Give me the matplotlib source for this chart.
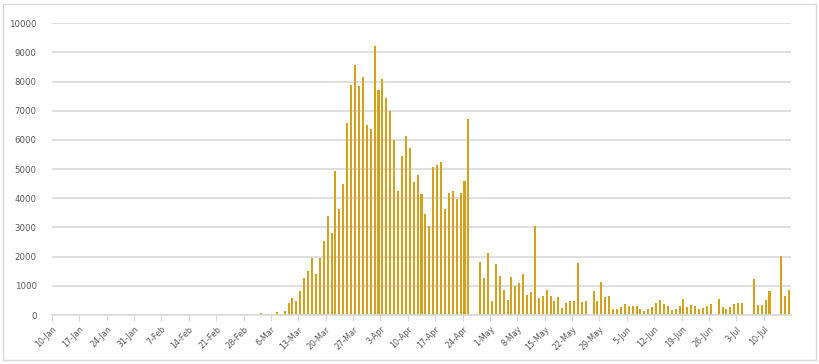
import numpy as np
import pandas as pd
import matplotlib
matplotlib.use("Agg")
import matplotlib.pyplot as plt
from matplotlib.patches import Rectangle

# daily values, 10-Jan .. 16-Jul 2020
dates = pd.date_range("2020-01-10", "2020-07-16", freq="D")
values = [
    0, 0, 0, 0, 0, 0, 0, 0, 0, 0,
    0, 0, 0, 0, 0, 0, 0, 0, 0, 0,
    0, 0, 0, 0, 0, 0, 0, 0, 0, 0,
    0, 0, 0, 0, 0, 0, 0, 0, 0, 0,
    0, 0, 0, 0, 0, 0, 0, 0, 0, 0,
    0, 0, 0, 60, 0, 35, 35, 90, 30, 150,
    410, 580, 490, 810, 1256, 1515, 1970, 1420, 1970, 2530,
    3400, 2805, 4920, 3630, 4490, 6570, 7900, 8560, 7860, 8160,
    6510, 6390, 9210, 7710, 8090, 7450, 7010, 6010, 4250, 5450,
    6150, 5740, 4550, 4810, 4140, 3450, 3040, 5060, 5140, 5230,
    3630, 4180, 4260, 3970, 4180, 4600, 6730, 0, 0, 1805,
    1268, 2125, 480, 1760, 1336, 856, 503, 1300, 983, 1096,
    1393, 685, 788, 3040, 582, 640, 845, 635, 490, 616,
    240, 422, 490, 468, 1770, 445, 468, 0, 833, 490,
    1120, 628, 650, 194, 194, 274, 365, 308, 308, 308,
    217, 137, 217, 285, 400, 503, 365, 308, 180, 200,
    320, 548, 274, 342, 308, 217, 228, 308, 365, 0,
    537, 274, 194, 285, 365, 411, 422, 0, 0, 1222,
    331, 342, 503, 833, 0, 0, 2010, 640, 856,
]
tick_every = 7
yticks = list(range(0, 10001, 1000))

bar_color = "#D6A11C"
grid_color = "#D9D9D9"
text_color = "#595959"

fig = plt.figure(figsize=(8.19, 3.64), dpi=100)
ax = fig.add_axes([0.0635, 0.1346, 0.9023, 0.8014])

x = np.arange(len(values)) + 0.5
ax.bar(x, values, width=0.52, color=bar_color, zorder=3)

ax.set_xlim(0, len(values))
ax.set_ylim(0, 10000)
ax.set_yticks(yticks)
ax.set_yticklabels([str(v) for v in yticks])
ax.yaxis.grid(True, color=grid_color, linewidth=1.2, zorder=0)

tpos = np.arange(0, len(values), tick_every)
ax.set_xticks(tpos)
ax.set_xticklabels([f"{dates[i].day}-{dates[i].strftime('%b')}" for i in tpos],
                   rotation=45, ha="right", rotation_mode="anchor")

for s in ["top", "right", "left"]:
    ax.spines[s].set_visible(False)
ax.spines["bottom"].set_color(grid_color)
ax.spines["bottom"].set_linewidth(1.2)
ax.spines["bottom"].set_zorder(4)

ax.tick_params(axis="y", length=0, pad=11, labelsize=6.2, labelcolor=text_color)
ax.tick_params(axis="x", length=4, width=0.8, color=grid_color, direction="out",
               pad=3, labelsize=5.8, labelcolor=text_color)

# chart area border
fig.patches.append(Rectangle((0.0035, 0.011), 0.9925, 0.977, transform=fig.transFigure,
                             fill=False, edgecolor="#D9D9D9", linewidth=1.0))

fig.savefig("out.png", dpi=100)
